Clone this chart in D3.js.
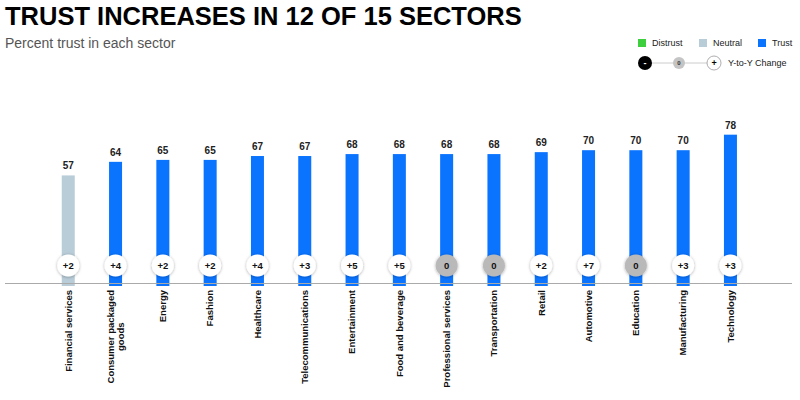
<!DOCTYPE html>
<html>
<head>
<meta charset="utf-8">
<script src="https://cdn.jsdelivr.net/npm/d3@7"></script>
<style>
  body { margin: 0; background: #fff; }
  svg { font-family: "Liberation Sans", Arial, sans-serif; }
</style>
</head>
<body>
<div id="chart"></div>
<script>
// sectors, trust percentages and year-to-year change
var sectors = ['Financial services', 'Consumer packaged goods', 'Energy', 'Fashion', 'Healthcare',
  'Telecommunications', 'Entertainment', 'Food and beverage', 'Professional services',
  'Transportation', 'Retail', 'Automotive', 'Education', 'Manufacturing', 'Technology']
var trustValues = [57, 64, 65, 65, 67, 67, 68, 68, 68, 68, 69, 70, 70, 70, 78]
var changeValues = [2, 4, 2, 2, 4, 3, 5, 5, 0, 0, 2, 7, 0, 3, 3]
var legendLevels = ['Distrust', 'Neutral', 'Trust']

var width = 800, height = 400

var levelColor = d3.scaleOrdinal()
  .domain(legendLevels)
  .range(['#3ecf3e', '#b9cdd8', '#0a74ff'])

// edelman style bands: under 50 distrust, 50-59 neutral, 60+ trust
function level(v) {
  return v < 50 ? 'Distrust' : (v < 60 ? 'Neutral' : 'Trust')
}

var data = sectors.map(function(s, i) {
  return { sector: s, value: trustValues[i], change: changeValues[i] }
})

var svg = d3.select('#chart').append('svg')
  .attr('width', width)
  .attr('height', height)

// drop shadow for the change bubbles
var defs = svg.append('defs')
defs.append('filter')
  .attr('id', 'shadow')
  .attr('x', '-50%').attr('y', '-50%')
  .attr('width', '200%').attr('height', '200%')
  .append('feDropShadow')
  .attr('dx', 0).attr('dy', 0.5)
  .attr('stdDeviation', 1.6)
  .attr('flood-color', '#000')
  .attr('flood-opacity', 0.35)

// title
svg.append('text')
  .attr('x', 5).attr('y', 25)
  .style('font-size', '25.5px')
  .style('font-weight', 'bold')
  .style('fill', '#000')
  .text('TRUST INCREASES IN 12 OF 15 SECTORS')

svg.append('text')
  .attr('x', 5).attr('y', 48)
  .style('font-size', '14px')
  .style('fill', '#555')
  .text('Percent trust in each sector')

// scales
var x = d3.scaleBand()
  .domain(sectors)
  .range([44.6, 754.1])
  .paddingInner(0.725)
  .paddingOuter(0.3625)

var y = d3.scaleLinear()
  .domain([0, 80])
  .range([286, 286 - 80 * 1.94])

// bars
svg.selectAll('.bar')
  .data(data)
  .enter()
  .append('rect')
  .attr('class', 'bar')
  .attr('x', function(d) { return x(d.sector) })
  .attr('width', x.bandwidth())
  .attr('y', function(d) { return y(d.value) })
  .attr('height', function(d) { return y(0) - y(d.value) })
  .style('fill', function(d) { return levelColor(level(d.value)) })

// value labels
svg.selectAll('.valueLabel')
  .data(data)
  .enter()
  .append('text')
  .attr('class', 'valueLabel')
  .attr('x', function(d) { return x(d.sector) + x.bandwidth() / 2 })
  .attr('y', function(d) { return y(d.value) - 6 })
  .style('text-anchor', 'middle')
  .style('font-size', '10px')
  .style('font-weight', 'bold')
  .style('fill', '#222')
  .text(function(d) { return d.value })

// baseline
svg.append('line')
  .attr('x1', 5).attr('x2', 792)
  .attr('y1', 283.5).attr('y2', 283.5)
  .style('stroke', '#aaa')
  .style('stroke-width', 1)

// change bubbles
var bubble = svg.selectAll('.bubble')
  .data(data)
  .enter()
  .append('g')
  .attr('class', 'bubble')
  .attr('transform', function(d) {
    return 'translate(' + (x(d.sector) + x.bandwidth() / 2) + ',' + 265.5 + ')'
  })

bubble.append('circle')
  .attr('r', 11)
  .style('fill', function(d) { return d.change === 0 ? '#b9b9b9' : '#fff' })
  .attr('filter', 'url(#shadow)')

bubble.append('text')
  .attr('dy', '0.35em')
  .style('text-anchor', 'middle')
  .style('font-size', '9.5px')
  .style('font-weight', 'bold')
  .style('fill', '#111')
  .text(function(d) { return d.change > 0 ? '+' + d.change : (d.change < 0 ? d.change : '0') })

// category labels, rotated, with wrapping for the long one
var wrapAt = { 'Consumer packaged goods': ['Consumer packaged', 'goods'] }

svg.selectAll('.catLabel')
  .data(data)
  .enter()
  .append('g')
  .attr('class', 'catLabel')
  .attr('transform', function(d) {
    return 'translate(' + (x(d.sector) + x.bandwidth() / 2) + ',290) rotate(-90)'
  })
  .each(function(d) {
    var g = d3.select(this)
    var lines = wrapAt[d.sector] || [d.sector]
    var texts = lines.map(function(line, i) {
      return g.append('text')
        .attr('y', (i - (lines.length - 1) / 2) * 10.5)
        .attr('dy', '0.35em')
        .style('font-size', '9.5px')
        .style('font-weight', 'bold')
        .style('fill', '#111')
        .text(line)
    })
    if (lines.length === 1) {
      texts[0].style('text-anchor', 'end')
    } else {
      var maxLen = d3.max(texts, function(t) { return t.node().getComputedTextLength() })
      texts.forEach(function(t) {
        t.style('text-anchor', 'middle').attr('x', -maxLen / 2)
      })
    }
  })

// legend: trust levels
var legend = svg.selectAll('.legend')
  .data(legendLevels)
  .enter()
  .append('g')
  .attr('class', 'legend')
  .attr('transform', function(d, i) { return 'translate(' + [638, 699, 758][i] + ',39)' })

legend.append('rect')
  .attr('width', 8).attr('height', 8)
  .style('fill', function(d) { return levelColor(d) })

legend.append('text')
  .attr('x', 14).attr('y', 4)
  .attr('dy', '0.35em')
  .style('font-size', '9px')
  .style('fill', '#222')
  .text(function(d) { return d })

// legend: year-to-year change
var yy = svg.append('g').attr('transform', 'translate(0,63)')
yy.append('line')
  .attr('x1', 645).attr('x2', 714)
  .style('stroke', '#ccc')
  .style('stroke-width', 1)

var changeKey = [
  { x: 645, r: 7, fill: '#000', color: '#fff', label: '-' },
  { x: 679, r: 6, fill: '#c4c4c4', color: '#333', label: '0' },
  { x: 714, r: 7, fill: '#fff', color: '#000', label: '+' }
]
var keys = yy.selectAll('.key')
  .data(changeKey)
  .enter()
  .append('g')
  .attr('transform', function(d) { return 'translate(' + d.x + ',0)' })

keys.append('circle')
  .attr('r', function(d) { return d.r })
  .style('fill', function(d) { return d.fill })
  .style('stroke', function(d) { return d.label === '+' ? '#999' : 'none' })
  .style('stroke-width', 0.8)

keys.append('text')
  .attr('dy', '0.35em')
  .style('text-anchor', 'middle')
  .style('font-size', function(d) { return d.label === '0' ? '6px' : '9px' })
  .style('font-weight', 'bold')
  .style('fill', function(d) { return d.color })
  .text(function(d) { return d.label })

yy.append('text')
  .attr('x', 728)
  .attr('dy', '0.35em')
  .style('font-size', '9px')
  .style('fill', '#222')
  .text('Y-to-Y Change')
</script>
</body>
</html>
